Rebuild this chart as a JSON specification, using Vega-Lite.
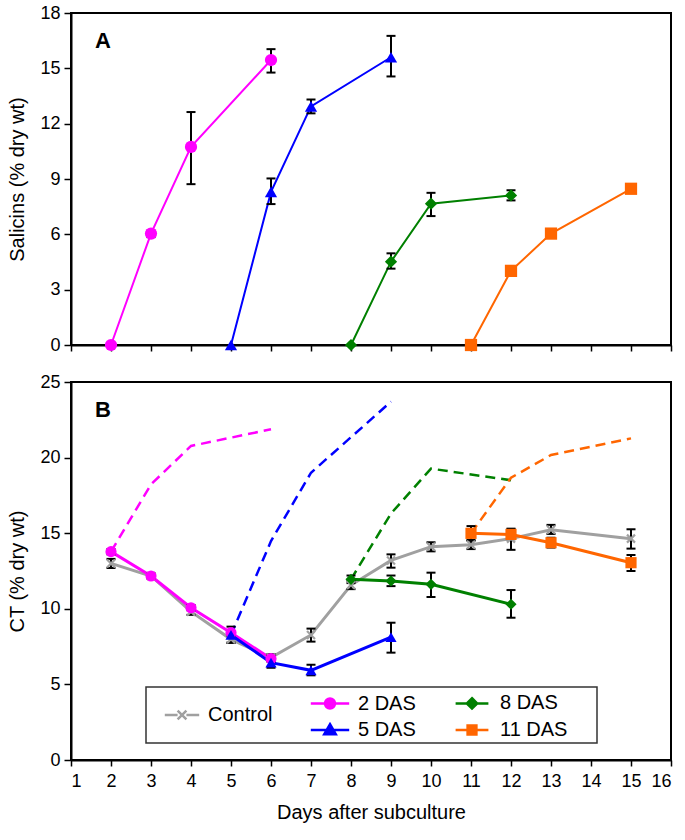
{
  "$schema": "https://vega.github.io/schema/vega-lite/v6.json",
  "padding": {"left": 6, "top": 3, "right": 8, "bottom": 8},
  "spacing": 17,
  "config": {
    "font": "Liberation Sans",
    "view": {"stroke": "#000", "strokeWidth": 2},
    "axis": {
      "domainColor": "#000", "domainWidth": 2, "tickColor": "#000", "tickWidth": 1.5, "tickSize": 7,
      "labelFont": "Liberation Sans", "labelFontSize": 18, "labelColor": "#000", "labelPadding": 4,
      "titleFont": "Liberation Sans", "titleFontSize": 20, "titleFontWeight": "normal", "titleColor": "#000",
      "titlePadding": 12, "grid": false
    },
    "legend": {"strokeWidth": 1.5}
  },
  "resolve": {
    "scale": {"color": "independent", "shape": "independent", "fill": "independent", "stroke": "independent"},
    "legend": {"color": "independent", "shape": "independent", "fill": "independent", "stroke": "independent"}
  },
  "datasets": {
    "salicin": [
      {"series": "2 DAS", "day": 2, "v": 0},
      {"series": "2 DAS", "day": 3, "v": 6.04, "lo": 5.85, "hi": 6.2},
      {"series": "2 DAS", "day": 4, "v": 10.74, "lo": 8.72, "hi": 12.63},
      {"series": "2 DAS", "day": 6, "v": 15.45, "lo": 14.77, "hi": 16.04},
      {"series": "5 DAS", "day": 5, "v": 0},
      {"series": "5 DAS", "day": 6, "v": 8.3, "lo": 7.64, "hi": 9.03},
      {"series": "5 DAS", "day": 7, "v": 12.94, "lo": 12.56, "hi": 13.31},
      {"series": "5 DAS", "day": 9, "v": 15.6, "lo": 14.56, "hi": 16.76},
      {"series": "8 DAS", "day": 8, "v": 0},
      {"series": "8 DAS", "day": 9, "v": 4.52, "lo": 4.14, "hi": 4.97},
      {"series": "8 DAS", "day": 10, "v": 7.66, "lo": 6.99, "hi": 8.25},
      {"series": "8 DAS", "day": 12, "v": 8.11, "lo": 7.84, "hi": 8.39},
      {"series": "11 DAS", "day": 11, "v": 0},
      {"series": "11 DAS", "day": 12, "v": 4.02, "lo": 3.9, "hi": 4.15},
      {"series": "11 DAS", "day": 13, "v": 6.04, "lo": 5.82, "hi": 6.25},
      {"series": "11 DAS", "day": 15, "v": 8.47, "lo": 8.35, "hi": 8.6}
    ],
    "ct": [
      {"series": "Control", "day": 2, "v": 13.0, "lo": 12.7, "hi": 13.3},
      {"series": "Control", "day": 3, "v": 12.17, "lo": 12.0, "hi": 12.35},
      {"series": "Control", "day": 4, "v": 9.81, "lo": 9.6, "hi": 10.0},
      {"series": "Control", "day": 5, "v": 7.98, "lo": 7.75, "hi": 8.2},
      {"series": "Control", "day": 6, "v": 6.77, "lo": 6.55, "hi": 7.0},
      {"series": "Control", "day": 7, "v": 8.27, "lo": 7.83, "hi": 8.69},
      {"series": "Control", "day": 8, "v": 11.57, "lo": 11.3, "hi": 11.85},
      {"series": "Control", "day": 9, "v": 13.2, "lo": 12.72, "hi": 13.6},
      {"series": "Control", "day": 10, "v": 14.11, "lo": 13.8, "hi": 14.4},
      {"series": "Control", "day": 11, "v": 14.24, "lo": 13.95, "hi": 14.55},
      {"series": "Control", "day": 12, "v": 14.64, "lo": 13.9, "hi": 15.3},
      {"series": "Control", "day": 13, "v": 15.23, "lo": 14.95, "hi": 15.55},
      {"series": "Control", "day": 15, "v": 14.64, "lo": 13.98, "hi": 15.26},
      {"series": "2 DAS", "day": 2, "v": 13.78, "lo": 13.6, "hi": 13.95},
      {"series": "2 DAS", "day": 3, "v": 12.17},
      {"series": "2 DAS", "day": 4, "v": 10.07, "lo": 9.9, "hi": 10.25},
      {"series": "2 DAS", "day": 5, "v": 8.42},
      {"series": "2 DAS", "day": 6, "v": 6.7, "lo": 6.5, "hi": 6.9},
      {"series": "5 DAS", "day": 5, "v": 8.27, "lo": 7.76, "hi": 8.82},
      {"series": "5 DAS", "day": 6, "v": 6.44, "lo": 6.1, "hi": 6.75},
      {"series": "5 DAS", "day": 7, "v": 5.93, "lo": 5.6, "hi": 6.3},
      {"series": "5 DAS", "day": 9, "v": 8.13, "lo": 7.1, "hi": 9.08},
      {"series": "8 DAS", "day": 8, "v": 11.95, "lo": 11.7, "hi": 12.2},
      {"series": "8 DAS", "day": 9, "v": 11.84, "lo": 11.5, "hi": 12.2},
      {"series": "8 DAS", "day": 10, "v": 11.62, "lo": 10.78, "hi": 12.39},
      {"series": "8 DAS", "day": 12, "v": 10.3, "lo": 9.41, "hi": 11.24},
      {"series": "11 DAS", "day": 11, "v": 14.99, "lo": 14.5, "hi": 15.47},
      {"series": "11 DAS", "day": 12, "v": 14.92, "lo": 14.6, "hi": 15.25},
      {"series": "11 DAS", "day": 13, "v": 14.37, "lo": 14.05, "hi": 14.7},
      {"series": "11 DAS", "day": 15, "v": 13.05, "lo": 12.5, "hi": 13.56}
    ],
    "ctdash": [
      {"series": "2 DAS", "day": 2, "v": 13.78},
      {"series": "2 DAS", "day": 3, "v": 18.23},
      {"series": "2 DAS", "day": 4, "v": 20.77},
      {"series": "2 DAS", "day": 6, "v": 21.87},
      {"series": "5 DAS", "day": 5, "v": 8.27},
      {"series": "5 DAS", "day": 6, "v": 14.48},
      {"series": "5 DAS", "day": 7, "v": 19.0},
      {"series": "5 DAS", "day": 9, "v": 23.7},
      {"series": "8 DAS", "day": 8, "v": 11.95},
      {"series": "8 DAS", "day": 9, "v": 16.3},
      {"series": "8 DAS", "day": 10, "v": 19.27},
      {"series": "8 DAS", "day": 12, "v": 18.5},
      {"series": "11 DAS", "day": 11, "v": 14.99},
      {"series": "11 DAS", "day": 12, "v": 18.67},
      {"series": "11 DAS", "day": 13, "v": 20.17},
      {"series": "11 DAS", "day": 15, "v": 21.27}
    ]
  },
  "vconcat": [
    {
      "width": 600,
      "height": 332,
      "data": {"name": "salicin"},
      "title": {"text": "A", "anchor": "start", "frame": "group", "orient": "top", "font": "Liberation Sans", "fontSize": 22, "fontWeight": "bold", "color": "#000", "baseline": "top", "offset": 0, "dx": 24, "dy": 49},
      "encoding": {
        "x": {"field": "day", "type": "quantitative", "scale": {"domain": [1, 16], "nice": false},
              "axis": {"values": [1,2,3,4,5,6,7,8,9,10,11,12,13,14,15,16], "labels": false, "title": null, "tickSize": 6}}
      },
      "layer": [
        {
          "mark": {"type": "line", "strokeWidth": 2},
          "encoding": {
            "y": {"field": "v", "type": "quantitative", "title": "Salicins (% dry wt)", "scale": {"domain": [0, 18], "nice": false}, "axis": {"values": [0,3,6,9,12,15,18]}},
            "color": {"field": "series", "type": "nominal", "scale": {"domain": ["2 DAS","5 DAS","8 DAS","11 DAS"], "range": ["#FF00FF","#0000FF","#008000","#FF6600"]}, "legend": null}
          }
        },
        {
          "mark": {"type": "rule", "color": "#000", "strokeWidth": 2},
          "encoding": {
            "y": {"field": "lo", "type": "quantitative", "title": "Salicins (% dry wt)"},
            "y2": {"field": "hi"}
          }
        },
        {
          "mark": {"type": "tick", "orient": "horizontal", "color": "#000", "thickness": 2, "size": 9, "opacity": 1},
          "encoding": {"y": {"field": "lo", "type": "quantitative", "title": "Salicins (% dry wt)"}}
        },
        {
          "mark": {"type": "tick", "orient": "horizontal", "color": "#000", "thickness": 2, "size": 9, "opacity": 1},
          "encoding": {"y": {"field": "hi", "type": "quantitative", "title": "Salicins (% dry wt)"}}
        },
        {
          "mark": {"type": "point", "filled": true, "opacity": 1, "size": 150},
          "encoding": {
            "y": {"field": "v", "type": "quantitative", "title": "Salicins (% dry wt)"},
            "color": {"field": "series", "type": "nominal", "legend": null},
            "shape": {"field": "series", "type": "nominal", "scale": {"domain": ["2 DAS","5 DAS","8 DAS","11 DAS"], "range": ["circle","triangle-up","diamond","square"]}, "legend": null}
          }
        }
      ]
    },
    {
      "width": 600,
      "height": 378,
      "title": {"text": "B", "anchor": "start", "frame": "group", "orient": "top", "font": "Liberation Sans", "fontSize": 22, "fontWeight": "bold", "color": "#000", "baseline": "top", "offset": 0, "dx": 24, "dy": 49},
      "encoding": {
        "x": {"field": "day", "type": "quantitative", "scale": {"domain": [1, 16], "nice": false},
              "axis": {"values": [1,2,3,4,5,6,7,8,9,10,11,12,13,14,15,16], "title": "Days after subculture", "tickSize": 6, "labelPadding": 6, "titlePadding": 12}}
      },
      "layer": [
        {
          "data": {"name": "ctdash"},
          "mark": {"type": "line", "strokeWidth": 2.5, "strokeDash": [10, 6]},
          "encoding": {
            "y": {"field": "v", "type": "quantitative", "title": "CT (% dry wt)", "scale": {"domain": [0, 25], "nice": false}, "axis": {"values": [0,5,10,15,20,25]}},
            "color": {"field": "series", "type": "nominal",
              "scale": {"domain": ["Control","2 DAS","5 DAS","8 DAS","11 DAS"], "range": ["#A0A0A0","#FF00FF","#0000FF","#008000","#FF6600"]},
              "legend": {"orient": "none", "legendX": 75, "legendY": 305, "values": ["Control"], "title": " ", "titleOrient": "right", "titlePadding": 307, "titleFontSize": 20,
                "padding": 18, "strokeColor": "#333",
                "symbolType": "M-2.15,0H-0.55M0.55,0H2.15M-0.55,-0.55L0.55,0.55M-0.55,0.55L0.55,-0.55",
                "symbolSize": 256, "symbolStrokeWidth": 2.5, "symbolOffset": 8, "labelFont": "Liberation Sans", "labelFontSize": 20, "labelColor": "#000", "labelOffset": 16}}
          }
        },
        {
          "data": {"name": "ct"},
          "mark": {"type": "line", "strokeWidth": 3},
          "encoding": {
            "y": {"field": "v", "type": "quantitative", "title": "CT (% dry wt)"},
            "color": {"field": "series", "type": "nominal",
              "legend": {"orient": "none", "legendX": 75, "legendY": 305, "values": ["Control"], "title": " ", "titleOrient": "right", "titlePadding": 307, "titleFontSize": 20,
                "padding": 18, "strokeColor": "#333",
                "symbolType": "M-2.15,0H-0.55M0.55,0H2.15M-0.55,-0.55L0.55,0.55M-0.55,0.55L0.55,-0.55",
                "symbolSize": 256, "symbolStrokeWidth": 2.5, "symbolOffset": 8, "labelFont": "Liberation Sans", "labelFontSize": 20, "labelColor": "#000", "labelOffset": 16}}
          }
        },
        {
          "data": {"name": "ct"},
          "mark": {"type": "rule", "color": "#000", "strokeWidth": 2},
          "encoding": {
            "y": {"field": "lo", "type": "quantitative", "title": "CT (% dry wt)"},
            "y2": {"field": "hi"}
          }
        },
        {
          "data": {"name": "ct"},
          "mark": {"type": "tick", "orient": "horizontal", "color": "#000", "thickness": 2, "size": 9, "opacity": 1},
          "encoding": {"y": {"field": "lo", "type": "quantitative", "title": "CT (% dry wt)"}}
        },
        {
          "data": {"name": "ct"},
          "mark": {"type": "tick", "orient": "horizontal", "color": "#000", "thickness": 2, "size": 9, "opacity": 1},
          "encoding": {"y": {"field": "hi", "type": "quantitative", "title": "CT (% dry wt)"}}
        },
        {
          "data": {"name": "ct"},
          "transform": [{"filter": "datum.series === 'Control'"}],
          "mark": {"type": "point", "shape": "M-1,-1L1,1M-1,1L1,-1", "size": 64, "filled": false, "strokeWidth": 2.2, "color": "#A0A0A0", "opacity": 1},
          "encoding": {"y": {"field": "v", "type": "quantitative", "title": "CT (% dry wt)"}}
        },
        {
          "data": {"name": "ct"},
          "transform": [{"filter": "datum.series === '2 DAS'"}],
          "mark": {"type": "point", "shape": "circle", "size": 125, "filled": true, "color": "#FF00FF", "opacity": 1},
          "encoding": {"y": {"field": "v", "type": "quantitative", "title": "CT (% dry wt)"}}
        },
        {
          "data": {"name": "ct"},
          "transform": [{"filter": "datum.series === '5 DAS'"}],
          "mark": {"type": "point", "shape": "triangle-up", "size": 125, "filled": true, "color": "#0000FF", "opacity": 1},
          "encoding": {"y": {"field": "v", "type": "quantitative", "title": "CT (% dry wt)"}}
        },
        {
          "data": {"name": "ct"},
          "transform": [{"filter": "datum.series === '8 DAS'"}],
          "mark": {"type": "point", "shape": "diamond", "size": 125, "filled": true, "color": "#008000", "opacity": 1},
          "encoding": {"y": {"field": "v", "type": "quantitative", "title": "CT (% dry wt)"}}
        },
        {
          "data": {"name": "ct"},
          "transform": [{"filter": "datum.series === '11 DAS'"}],
          "mark": {"type": "point", "shape": "square", "size": 125, "filled": true, "color": "#FF6600", "opacity": 1},
          "encoding": {"y": {"field": "v", "type": "quantitative", "title": "CT (% dry wt)"}}
        },
        {
          "data": {"name": "ct"},
          "transform": [{"filter": "datum.series !== 'Control'"}],
          "mark": {"type": "point", "filled": true, "opacity": 0, "strokeWidth": 2.5},
          "encoding": {
            "y": {"field": "v", "type": "quantitative", "title": "CT (% dry wt)"},
            "fill": {"field": "series", "type": "nominal",
              "scale": {"domain": ["2 DAS","5 DAS","8 DAS","11 DAS"], "range": ["#FF00FF","#0000FF","#008000","#FF6600"]},
              "legend": {"orient": "none", "legendX": 249, "legendY": 311, "title": null,
                "columns": 2, "columnPadding": 34, "rowPadding": 5, "padding": 0,
                "symbolSize": 256, "symbolStrokeWidth": 2.5, "symbolOpacity": 1, "labelFont": "Liberation Sans", "labelFontSize": 20, "labelColor": "#000", "labelOffset": 18}},
            "stroke": {"field": "series", "type": "nominal",
              "scale": {"domain": ["2 DAS","5 DAS","8 DAS","11 DAS"], "range": ["#FF00FF","#0000FF","#008000","#FF6600"]},
              "legend": {"orient": "none", "legendX": 249, "legendY": 311, "title": null,
                "columns": 2, "columnPadding": 34, "rowPadding": 5, "padding": 0,
                "symbolSize": 256, "symbolStrokeWidth": 2.5, "symbolOpacity": 1, "labelFont": "Liberation Sans", "labelFontSize": 20, "labelColor": "#000", "labelOffset": 18}},
            "shape": {"field": "series", "type": "nominal",
              "scale": {"domain": ["2 DAS","5 DAS","8 DAS","11 DAS"], "range": [
                "M-2.4,0H2.4M-0.62,0A0.62,0.62 0 1,0 0.62,0A0.62,0.62 0 1,0 -0.62,0Z",
                "M-2.4,0H2.4M0,-0.72L0.72,0.52L-0.72,0.52Z",
                "M-2.05,0H2.05M0,-0.65L0.65,0L0,0.65L-0.65,0Z",
                "M-2.05,0H2.05M-0.55,-0.55H0.55V0.55H-0.55Z"]},
              "legend": {"orient": "none", "legendX": 249, "legendY": 311, "title": null,
                "columns": 2, "columnPadding": 34, "rowPadding": 5, "padding": 0,
                "symbolSize": 256, "symbolStrokeWidth": 2.5, "symbolOpacity": 1, "labelFont": "Liberation Sans", "labelFontSize": 20, "labelColor": "#000", "labelOffset": 18}}
          }
        }
      ]
    }
  ]
}
